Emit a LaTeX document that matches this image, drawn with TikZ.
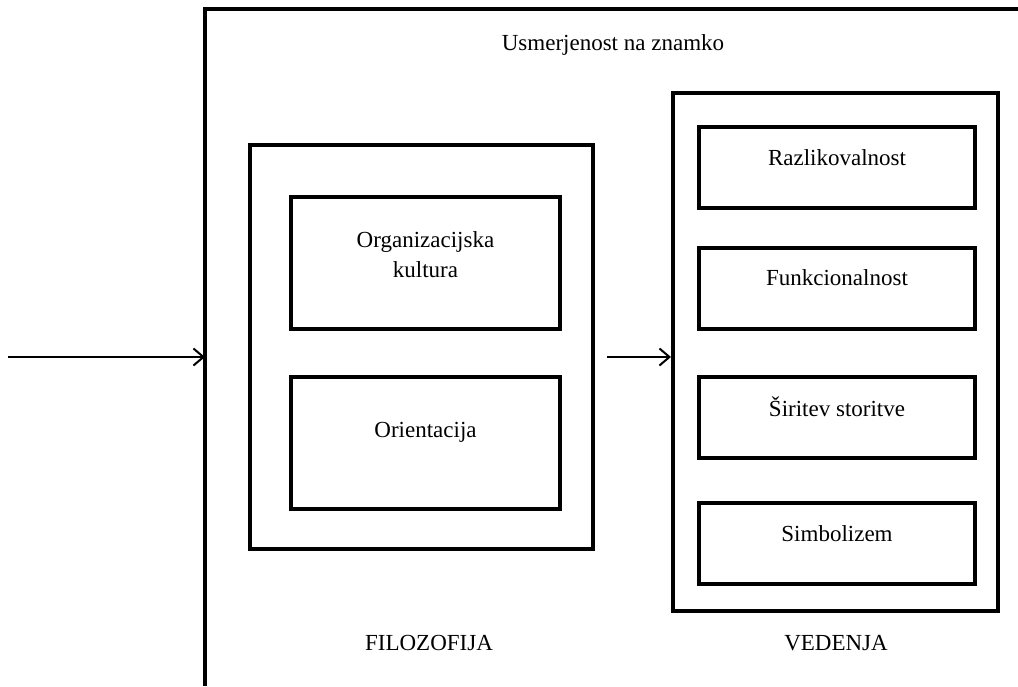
\documentclass[tikz,border=0pt]{standalone}
\usepackage{fontspec}
\setmainfont{Liberation Serif}
\usetikzlibrary{arrows.meta,positioning}
\tikzstyle{frame} = [rectangle, draw, line width=2pt]
\tikzstyle{block} = [rectangle, draw, line width=2pt,
    minimum width=138pt, minimum height=40.5pt]
\tikzstyle{blockwide} = [rectangle, draw, line width=2pt,
    minimum width=134.5pt, minimum height=66pt]
\tikzstyle{inside} = [align=center, font=\fontsize{11.5}{15}\selectfont]
\tikzstyle{line} = [draw, line width=1pt, -{Straight Barb[length=5pt,width=8.5pt]}]

\begin{document}
\begin{tikzpicture}[x=0.5pt, y=-0.5pt, inside]
    \useasboundingbox (0,0) rectangle (1018,686);
    % outer frame, cut off at the right and at the bottom
    \draw [line width=2pt] (205,686) |- (1018,9);
    \node (title) at (613,45) {Usmerjenost na znamko};
    \coordinate (start) at (8,357);
    \coordinate (entry) at (205,357);
    % Place nodes
    \node [frame, minimum width=171.5pt, minimum height=202pt] (filozofija) at (421.5,347) {};
    \node [blockwide, label={[inside, yshift=4pt]center:Organizacijska\\kultura}] (kultura) at (425.5,263) {};
    \node [blockwide, label={[inside, yshift=5pt]center:Orientacija}] (orientacija) at (425.5,442.5) {};
    \node [frame, minimum width=162.5pt, minimum height=259pt] (vedenja) at (835.5,352) {};
    \node [block, label={[inside, yshift=5pt]center:Razlikovalnost}] (razlik) at (837,167.5) {};
    \node [block, label={[inside, yshift=5pt]center:Funkcionalnost}] (funkc) at (837,288) {};
    \node [block, label={[inside, yshift=5pt]center:Širitev storitve}] (siritev) at (837,417) {};
    \node [block, label={[inside, yshift=5pt]center:Simbolizem}] (simbol) at (837,543.5) {};
    % the labels under the boxes
    \node (filolabel) at (429,643) {FILOZOFIJA};
    \node (vedlabel) at (836,643) {VEDENJA};
    % Draw edges
    \path [line] (start) -- (entry);
    \path [line, shorten <=6pt] (filozofija.east |- entry) -- (vedenja.west |- entry);
\end{tikzpicture}
\end{document}
